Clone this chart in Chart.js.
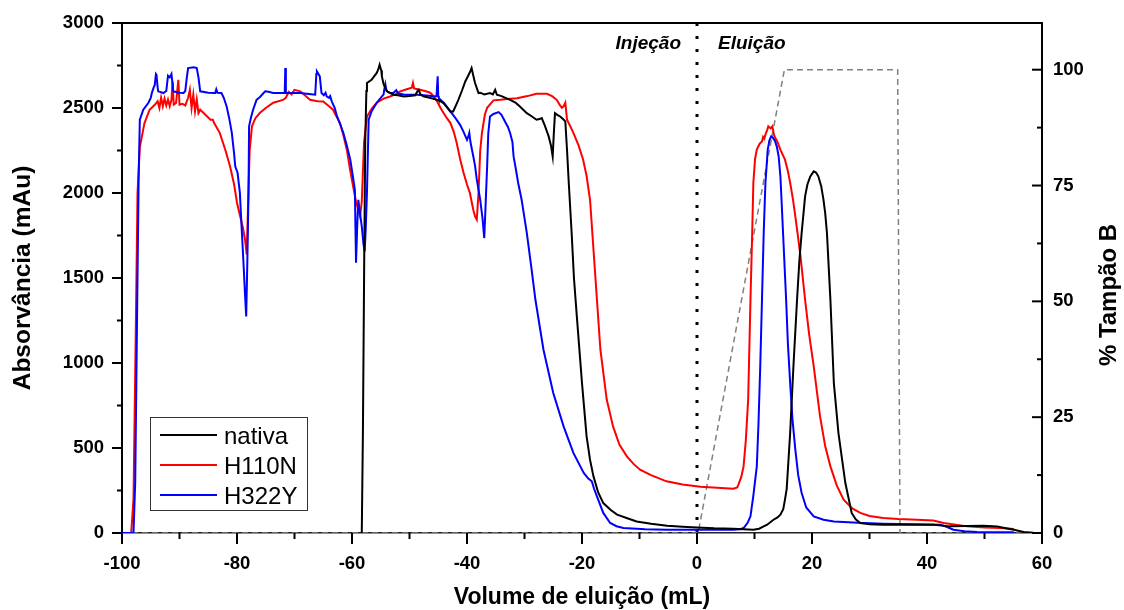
<!DOCTYPE html>
<html><head><meta charset="utf-8">
<script src="https://cdn.jsdelivr.net/npm/chart.js@4.4.0/dist/chart.umd.min.js"></script>
<style>html,body{margin:0;padding:0;background:#fff;}canvas{display:block;}</style>
</head><body>
<canvas id="c" width="1124" height="610"></canvas>
<script>
// ---- data (x = volume de eluição mL, y = absorvância mAu) ----
const seriesNames = ['nativa', 'H110N', 'H322Y'];
const seriesColors = ['#000000', '#ff0000', '#0000ff'];

const nativa = [[-58.3,0],[-58.1,600],[-57.9,1500],[-57.7,2300],[-57.5,2600],[-57.4,2647],[-56.6,2666],[-55.7,2706],[-55.4,2730],[-55.2,2755],[-54.9,2720],[-54.8,2686],[-54.5,2640],[-54.2,2618],[-53.9,2598],[-52.8,2578],[-52.0,2575],[-51.0,2568],[-50.0,2570],[-49.0,2575],[-48.6,2600],[-48.4,2607],[-48.1,2580],[-47.6,2568],[-46.5,2560],[-45.2,2548],[-44.6,2540],[-44.1,2529],[-43.5,2505],[-42.9,2480],[-42.4,2480],[-42.0,2510],[-41.5,2548],[-40.9,2600],[-40.3,2656],[-39.8,2690],[-39.5,2710],[-39.2,2735],[-38.9,2690],[-38.6,2647],[-38.0,2588],[-37.7,2590],[-37.0,2580],[-36.0,2588],[-35.5,2580],[-35.1,2607],[-34.8,2578],[-34.0,2570],[-32.5,2548],[-31.5,2530],[-30.8,2509],[-29.6,2470],[-28.7,2450],[-27.9,2431],[-27.4,2435],[-27.0,2441],[-26.5,2400],[-25.8,2333],[-25.4,2280],[-25.1,2215],[-24.9,2350],[-24.7,2470],[-24.3,2460],[-23.8,2450],[-23.3,2435],[-22.9,2421],[-22.6,2250],[-22.3,2059],[-21.8,1765],[-21.4,1500],[-20.9,1274],[-20.0,882],[-19.2,568],[-18.6,430],[-18.0,333],[-17.2,240],[-16.3,176],[-15.0,135],[-13.9,108],[-12.0,85],[-10.5,68],[-8.0,54],[-5.2,43],[-2.5,37],[0,33],[3.0,28],[6.3,25],[9.8,19],[10.8,25],[11.6,39],[12.2,49],[13.3,78],[14.0,92],[14.5,108],[15.0,140],[15.3,196],[15.6,260],[16.2,588],[16.8,1000],[17.4,1372],[17.8,1600],[18.2,1765],[18.8,1980],[19.2,2050],[19.7,2098],[20.3,2127],[20.7,2120],[21.1,2098],[21.6,2040],[22.0,1960],[22.3,1880],[22.6,1765],[23.2,1372],[23.8,882],[24.6,588],[25.8,294],[26.9,118],[27.6,80],[28.4,59],[30.0,52],[32.4,49],[36.0,48],[41.1,49],[44.0,39],[47.0,41],[49.8,43],[52.2,39],[53.5,30],[55.1,19],[56.8,6],[58.5,2],[60,0]];

const h110n = [[-100,0],[-98.4,0],[-98.0,200],[-97.6,1200],[-97.3,2000],[-96.9,2270],[-96.1,2410],[-95.2,2490],[-94.3,2519],[-93.8,2540],[-93.5,2500],[-93.2,2560],[-92.9,2510],[-92.6,2555],[-92.3,2515],[-92.0,2550],[-91.7,2510],[-91.4,2548],[-91.2,2656],[-91.0,2520],[-90.6,2530],[-90.2,2666],[-90.0,2520],[-89.5,2525],[-89.0,2515],[-88.5,2560],[-88.2,2607],[-87.9,2500],[-87.6,2578],[-87.3,2480],[-87.0,2550],[-86.7,2470],[-86.4,2490],[-85.5,2460],[-84.6,2431],[-84.2,2431],[-84.0,2413],[-83.0,2354],[-82.0,2250],[-81.2,2156],[-80.5,2050],[-80.0,1943],[-79.6,1884],[-79.0,1800],[-78.6,1725],[-78.3,1637],[-78.1,1900],[-77.8,2250],[-77.4,2392],[-76.8,2440],[-76.0,2472],[-75.0,2500],[-73.7,2531],[-72.0,2548],[-71.5,2560],[-71.0,2595],[-70.5,2580],[-70.0,2607],[-69.0,2598],[-68.2,2575],[-67.3,2548],[-66.0,2540],[-65.0,2538],[-64.0,2510],[-63.3,2490],[-62.7,2450],[-62.1,2413],[-61.5,2340],[-60.9,2255],[-60.4,2150],[-59.8,2038],[-59.3,1950],[-58.9,1900],[-58.6,1862],[-58.3,1950],[-57.9,2300],[-57.4,2450],[-56.5,2500],[-55.7,2531],[-54.5,2555],[-53.4,2568],[-52.5,2580],[-51.6,2598],[-50.5,2610],[-49.6,2619],[-49.4,2648],[-49.2,2615],[-48.2,2607],[-47.3,2600],[-46.4,2590],[-45.8,2570],[-45.2,2538],[-44.6,2500],[-44.1,2472],[-43.5,2440],[-42.9,2413],[-42.3,2360],[-41.8,2296],[-41.2,2200],[-40.6,2119],[-40.0,2050],[-39.5,2001],[-39.2,1950],[-38.9,1900],[-38.6,1862],[-38.3,1843],[-38.0,2000],[-37.7,2250],[-37.4,2354],[-36.9,2460],[-36.5,2501],[-35.4,2545],[-34.2,2548],[-33.0,2553],[-31.3,2558],[-29.5,2570],[-27.9,2584],[-26.1,2584],[-25.2,2570],[-24.4,2548],[-23.9,2520],[-23.5,2501],[-23.2,2510],[-22.9,2531],[-22.6,2431],[-22.0,2390],[-21.5,2354],[-20.6,2280],[-19.8,2196],[-19.2,2100],[-18.6,1960],[-18.0,1666],[-17.4,1372],[-16.8,1078],[-15.7,785],[-14.6,627],[-13.5,520],[-12.2,451],[-11.0,405],[-9.9,372],[-8.0,340],[-5.3,304],[-2.5,285],[0.6,272],[3.5,266],[6.3,261],[7.0,268],[7.2,284],[7.7,330],[8.1,392],[8.5,550],[8.9,785],[9.3,1372],[9.6,1766],[9.8,2060],[10.1,2200],[10.4,2255],[10.9,2290],[11.3,2303],[11.5,2330],[11.7,2320],[11.9,2343],[12.2,2370],[12.4,2392],[12.8,2380],[13.1,2392],[13.4,2340],[13.6,2325],[14.0,2300],[14.5,2255],[15.3,2196],[15.8,2130],[16.2,2060],[16.7,1960],[17.1,1862],[17.5,1760],[18.0,1627],[18.8,1372],[19.5,1170],[20.3,980],[21.4,686],[22.3,510],[23.2,392],[24.3,280],[25.5,196],[27.0,145],[28.4,118],[30.0,100],[32.4,88],[35.0,82],[38.3,78],[41.1,74],[42.9,59],[45.0,48],[47.0,39],[50.0,33],[52.8,29],[55.1,23]];

const h322y = [[-100,0],[-98.0,0],[-97.7,300],[-97.4,1215],[-97.1,2100],[-96.9,2431],[-96.3,2490],[-95.4,2531],[-95.0,2560],[-94.8,2590],[-94.5,2620],[-94.3,2636],[-94.1,2700],[-94.0,2695],[-93.8,2620],[-93.7,2598],[-92.8,2588],[-92.3,2600],[-92.0,2690],[-91.7,2680],[-91.4,2700],[-91.2,2640],[-91.1,2598],[-90.0,2590],[-89.3,2588],[-89.0,2600],[-88.7,2686],[-88.5,2735],[-87.5,2740],[-87.0,2735],[-86.7,2680],[-86.4,2598],[-85.0,2590],[-84.0,2588],[-83.8,2588],[-83.6,2610],[-83.4,2590],[-82.7,2588],[-82.3,2560],[-81.8,2509],[-81.3,2430],[-80.9,2354],[-80.5,2230],[-80.3,2156],[-79.9,2119],[-79.7,2060],[-79.5,2001],[-79.2,1800],[-78.9,1607],[-78.6,1400],[-78.4,1274],[-78.2,1600],[-78.0,2001],[-77.9,2392],[-77.6,2440],[-77.2,2490],[-76.6,2548],[-76.0,2565],[-75.1,2598],[-74.5,2595],[-73.7,2588],[-71.7,2588],[-71.6,2735],[-71.5,2590],[-69.0,2588],[-67.5,2582],[-66.4,2578],[-66.2,2700],[-66.1,2715],[-65.6,2686],[-65.4,2620],[-65.3,2588],[-64.9,2575],[-64.6,2590],[-64.4,2568],[-64.0,2560],[-63.8,2570],[-63.5,2538],[-63.0,2500],[-62.6,2450],[-62.0,2400],[-61.5,2353],[-60.9,2280],[-60.3,2196],[-59.9,2110],[-59.5,2019],[-59.4,1800],[-59.3,1590],[-59.1,1800],[-58.9,1960],[-58.6,1880],[-58.3,1803],[-58.0,1700],[-57.8,1656],[-57.6,1800],[-57.4,2001],[-57.1,2431],[-56.6,2480],[-55.7,2531],[-54.5,2580],[-54.4,2607],[-54.2,2640],[-54.0,2600],[-53.5,2590],[-52.8,2588],[-52.3,2605],[-52.0,2585],[-51.0,2580],[-48.7,2578],[-46.5,2572],[-45.8,2568],[-45.3,2570],[-45.1,2686],[-45.0,2570],[-44.9,2558],[-44.0,2530],[-42.9,2480],[-42.0,2440],[-41.2,2401],[-40.6,2360],[-40.0,2313],[-39.8,2330],[-39.6,2354],[-39.4,2300],[-38.9,2215],[-38.6,2160],[-38.3,2080],[-37.7,1960],[-37.3,1850],[-37.0,1735],[-36.8,1900],[-36.5,2156],[-36.3,2350],[-36.0,2450],[-35.4,2465],[-34.5,2476],[-34.0,2460],[-33.4,2421],[-32.9,2390],[-32.5,2353],[-32.1,2300],[-31.9,2215],[-31.5,2140],[-31.1,2059],[-30.5,1960],[-29.6,1766],[-28.8,1560],[-28.1,1372],[-26.7,1078],[-25.0,823],[-23.2,627],[-21.5,471],[-19.7,353],[-18.9,320],[-18.3,304],[-17.9,260],[-17.4,215],[-16.3,118],[-15.1,59],[-14.0,40],[-12.8,29],[-9.0,22],[-5.3,19],[0,19],[6.3,19],[7.5,22],[8.1,29],[8.8,60],[9.3,98],[9.8,220],[10.4,392],[10.7,650],[11.0,980],[11.3,1372],[11.6,1765],[11.9,2059],[12.3,2255],[12.6,2310],[12.9,2333],[13.2,2325],[13.6,2303],[13.9,2270],[14.2,2215],[14.5,2100],[14.7,1960],[15.1,1666],[15.5,1372],[15.8,1120],[16.2,882],[16.6,670],[17.1,490],[17.6,340],[18.2,235],[19.0,150],[20.3,98],[22.0,78],[23.8,68],[28.0,60],[32.4,55],[38.0,52],[42.3,49],[43.5,35],[44.6,19],[46.5,10],[48.7,6],[55.1,5]];

// % Tampão B gradient (right axis)
const tampaoB = [[-100,0],[0.2,0],[15.2,100],[34.9,100],[35.3,0],[60,0]];
// injection point marker (vertical dotted line at 0 mL)
const injectionMarker = [[0,0],[0,3000]];

const xTickValues = [-100,-80,-60,-40,-20,0,20,40,60];
const xMinorValues = [-90,-70,-50,-30,-10,10,30,50];
const yTickValues = [0,500,1000,1500,2000,2500,3000];
const yMinorValues = [250,750,1250,1750,2250,2750];
const bTickValues = [0,25,50,75,100];
const bMinorValues = [12.5,37.5,62.5,87.5];
const phaseLabels = ['Injeção','Eluição'];
const xTitle = 'Volume de eluição (mL)';
const yTitle = 'Absorvância (mAu)';
const bTitle = '% Tampão B';

const FONT = "'Liberation Sans', Arial, Helvetica, sans-serif";
const toXY = arr => arr.map(p => ({x: p[0], y: p[1]}));

const framePlugin = {
  id: 'frame',
  afterDraw(chart) {
    const {ctx, chartArea: a, scales} = chart;
    const xs = scales.x, ys = scales.y, bs = scales.y2;
    ctx.save();
    ctx.strokeStyle = '#000';
    ctx.lineWidth = 2;
    const line = (x1, y1, x2, y2) => { ctx.beginPath(); ctx.moveTo(x1, y1); ctx.lineTo(x2, y2); ctx.stroke(); };
    // top frame line
    line(a.left - 1, a.top, a.right + 1, a.top);
    // left ticks (outward)
    yTickValues.forEach(v => { const y = ys.getPixelForValue(v); line(a.left - 10, y, a.left, y); });
    yMinorValues.forEach(v => { const y = ys.getPixelForValue(v); line(a.left - 5, y, a.left, y); });
    // bottom ticks (outward)
    xTickValues.forEach(v => { const x = xs.getPixelForValue(v); line(x, a.bottom, x, a.bottom + 11); });
    xMinorValues.forEach(v => { const x = xs.getPixelForValue(v); line(x, a.bottom, x, a.bottom + 6); });
    // right ticks (inward)
    bTickValues.forEach(v => { const y = bs.getPixelForValue(v); line(a.right - 10, y, a.right, y); });
    bMinorValues.forEach(v => { const y = bs.getPixelForValue(v); line(a.right - 5, y, a.right, y); });

    // right axis title (reads bottom to top)
    ctx.fillStyle = '#000';
    ctx.font = `bold 24px ${FONT}`;
    ctx.textAlign = 'center'; ctx.textBaseline = 'middle';
    ctx.translate(1109, 295); ctx.rotate(-Math.PI / 2);
    ctx.fillText(bTitle, 0, 0);
    ctx.restore();

    // phase labels
    ctx.save();
    const x0 = xs.getPixelForValue(0);
    ctx.fillStyle = '#000';
    ctx.font = `italic bold 19px ${FONT}`;
    ctx.textBaseline = 'alphabetic';
    ctx.textAlign = 'right'; ctx.fillText(phaseLabels[0], x0 - 16, 49);
    ctx.textAlign = 'left'; ctx.fillText(phaseLabels[1], x0 + 21, 49);
    ctx.restore();

    // legend
    ctx.save();
    ctx.fillStyle = '#fff';
    ctx.fillRect(150, 417, 157, 93);
    ctx.strokeStyle = '#333'; ctx.lineWidth = 1;
    ctx.strokeRect(150.5, 417.5, 157, 93);
    ctx.font = `24px ${FONT}`;
    ctx.textAlign = 'left'; ctx.textBaseline = 'alphabetic';
    for (let i = 0; i < 3; i++) {
      const ds = chart.data.datasets[i];
      const y = 435 + 30 * i;
      ctx.strokeStyle = ds.borderColor; ctx.lineWidth = 2;
      ctx.beginPath(); ctx.moveTo(160, y); ctx.lineTo(217, y); ctx.stroke();
      ctx.fillStyle = '#000';
      ctx.fillText(ds.label, 224, y + 9);
    }
    ctx.restore();
  }
};

const tickFont = {family: FONT, size: 18.5, weight: 'bold', lineHeight: 1};

new Chart(document.getElementById('c'), {
  type: 'line',
  data: {
    datasets: [
      {label: seriesNames[0], data: toXY(nativa), borderColor: seriesColors[0], borderWidth: 2, order: 0, yAxisID: 'y'},
      {label: seriesNames[1], data: toXY(h110n), borderColor: seriesColors[1], borderWidth: 2, order: 2, yAxisID: 'y'},
      {label: seriesNames[2], data: toXY(h322y), borderColor: seriesColors[2], borderWidth: 2, order: 1, yAxisID: 'y'},
      {label: bTitle, data: toXY(tampaoB), borderColor: '#808080', borderWidth: 1.5, borderDash: [6, 4], order: 3, yAxisID: 'y2'},
      {label: 'injeção', data: toXY(injectionMarker), borderColor: '#000', borderWidth: 3, borderDash: [3, 10], borderCapStyle: 'butt', order: 4, yAxisID: 'y'}
    ]
  },
  options: {
    responsive: false,
    animation: false,
    devicePixelRatio: 1,
    layout: {padding: {top: 23, left: 0, right: 0, bottom: 0}},
    elements: {point: {radius: 0, hoverRadius: 0}, line: {tension: 0, fill: false}},
    plugins: {legend: {display: false}, tooltip: {enabled: false}},
    scales: {
      x: {
        type: 'linear', position: 'bottom', min: -100, max: 60,
        afterBuildTicks: s => { s.ticks = xTickValues.map(v => ({value: v})); },
        afterFit: s => { s.height = 77; },
        grid: {display: false, drawTicks: true, tickLength: 22},
        border: {display: true, color: '#222', width: 1.5, dash: [6, 3]},
        ticks: {font: tickFont, color: '#000', padding: 0, maxRotation: 0, autoSkip: false,
                callback: v => String(v)},
        title: {display: true, text: xTitle, color: '#000', font: {family: FONT, size: 23, weight: 'bold', lineHeight: 1}, padding: {top: 0, bottom: 1}}
      },
      y: {
        type: 'linear', position: 'left', min: 0, max: 3000,
        afterBuildTicks: s => { s.ticks = yTickValues.map(v => ({value: v})); },
        afterFit: s => { s.width = 122; },
        grid: {display: false, drawTicks: true, tickLength: 18},
        border: {display: true, color: '#000', width: 2},
        ticks: {font: tickFont, color: '#000', padding: 0, callback: v => String(v)},
        title: {display: true, text: yTitle, color: '#000', font: {family: FONT, size: 24.5, weight: 'bold', lineHeight: 1}, padding: {top: 11, bottom: 0}}
      },
      y2: {
        type: 'linear', position: 'right', min: 0, max: 110.08,
        afterBuildTicks: s => { s.ticks = bTickValues.map(v => ({value: v})); },
        afterFit: s => { s.width = 82; },
        grid: {display: false, drawTicks: true, tickLength: 11},
        border: {display: true, color: '#000', width: 2},
        ticks: {font: tickFont, color: '#000', padding: 0, callback: v => String(v)},
        title: {display: false}
      }
    }
  },
  plugins: [framePlugin]
});
</script>
</body></html>
